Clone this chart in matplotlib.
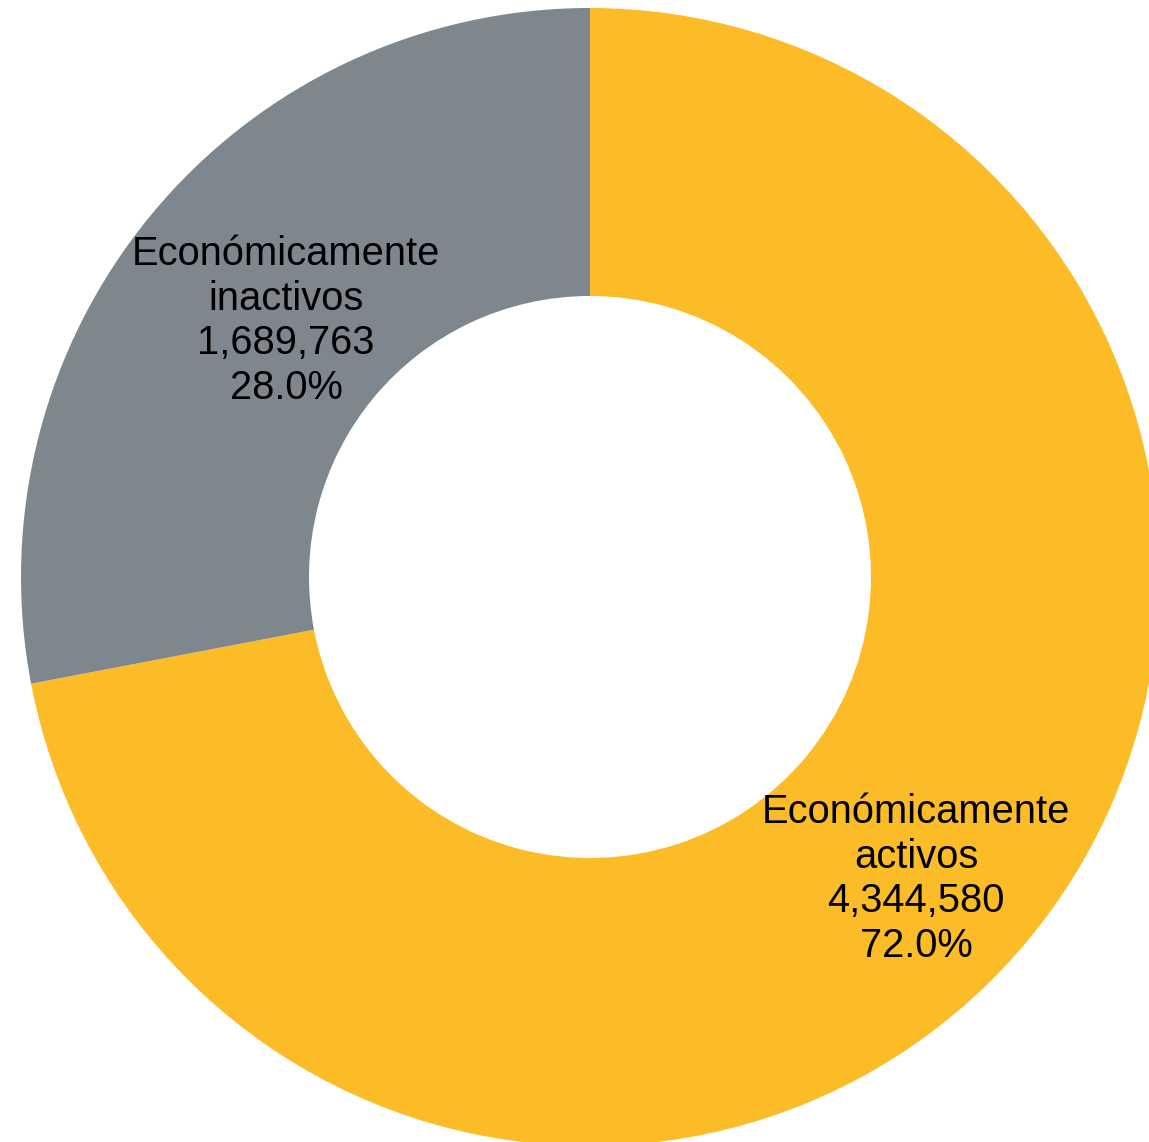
import matplotlib
matplotlib.use("Agg")
import matplotlib.pyplot as plt

categories = ["Económicamente\nactivos", "Económicamente\ninactivos"]
values = [4344580, 1689763]
colors = ["#FBBC28", "#7E878D"]

W, H = 1149, 1142
fig = plt.figure(figsize=(W / 100, H / 100), dpi=100)
ax = fig.add_axes([0, 0, 1, 1])
cx, cy = 590, H - 577
R = 569
r_in = 281

wedges, _ = ax.pie(values, colors=colors, startangle=90, counterclock=False,
                   radius=R, center=(cx, cy), frame=True,
                   wedgeprops=dict(width=R - r_in, linewidth=0))
ax.set_xlim(0, W)
ax.set_ylim(0, H)
ax.set_aspect('equal')
ax.axis('off')

total = sum(values)
label_pos = [(916, H - 879), (286, H - 321)]
for cat, v, (x, y) in zip(categories, values, label_pos):
    txt = f"{cat}\n{v:,}\n{100 * v / total:.1f}%"
    ax.text(x, y, txt, ha='center', va='center', fontsize=28.7,
            family='Liberation Sans', linespacing=1.23, color='black')

fig.savefig("out.png", dpi=100)
